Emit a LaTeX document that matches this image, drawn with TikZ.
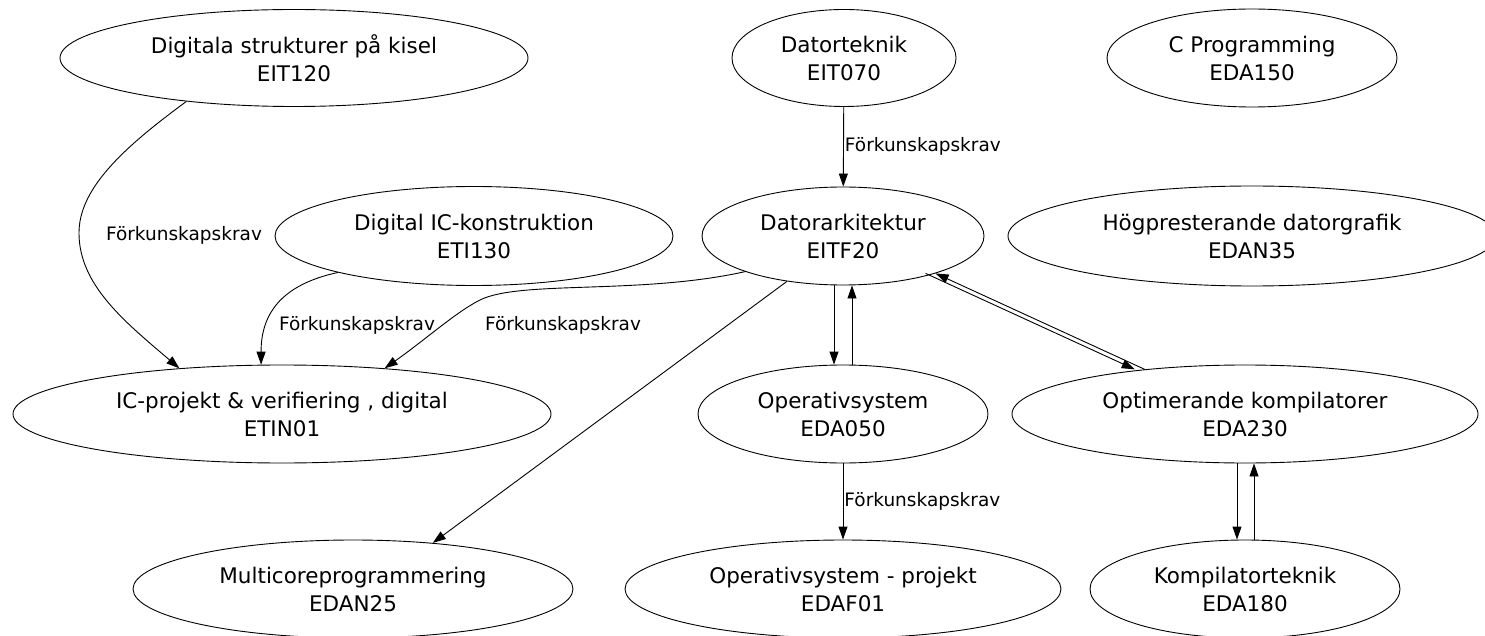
\documentclass[tikz,border=0pt]{standalone}
\usepackage{fontspec}
\setmainfont{DejaVu Sans}
\usetikzlibrary{shapes.geometric,arrows.meta}

\begin{document}
\begin{tikzpicture}[x=1pt,y=-1pt,line width=0.9pt,
  course/.style={ellipse,draw,align=center,inner sep=0pt,
    font=\fontsize{21.5}{28}\selectfont},
  lbl/.style={font=\fontsize{18.5}{22}\selectfont,inner sep=1pt},
  >={Triangle[length=13pt,width=9pt]}]
\useasboundingbox (0,0) rectangle (1485,636);

% courses, top row
\node[course,minimum width=468pt,minimum height=97pt] (eit120) at (294,58) {Digitala strukturer på kisel\\EIT120};
\node[course,minimum width=224pt,minimum height=97pt] (eit070) at (844,58) {Datorteknik\\EIT070};
\node[course,minimum width=290pt,minimum height=98pt] (eda150) at (1252,58) {C Programming\\EDA150};
% second row
\node[course,minimum width=398pt,minimum height=99pt] (eti130) at (474,236) {Digital IC-konstruktion\\ETI130};
\node[course,minimum width=282pt,minimum height=98pt] (eitf20) at (843,236) {Datorarkitektur\\EITF20};
\node[course,minimum width=488pt,minimum height=100pt] (edan35) at (1252,236) {Högpresterande datorgrafik\\EDAN35};
% third row
\node[course,minimum width=538pt,minimum height=98pt] (etin01) at (282,414) {IC-projekt \& verifiering , digital\\ETIN01};
\node[course,minimum width=290pt,minimum height=98pt] (eda050) at (843,414) {Operativsystem\\EDA050};
\node[course,minimum width=466pt,minimum height=98pt] (eda230) at (1245,414) {Optimerande kompilatorer\\EDA230};
% bottom row
\node[course,minimum width=440pt,minimum height=98pt] (edan25) at (353,589) {Multicoreprogrammering\\EDAN25};
\node[course,minimum width=436pt,minimum height=98pt] (edaf01) at (843,589) {Operativsystem - projekt\\EDAF01};
\node[course,minimum width=310pt,minimum height=98pt] (eda180) at (1245,589) {Kompilatorteknik\\EDA180};

% prerequisites
\draw[->] (eit120.202) .. controls (120,150) and (79,190) .. (79,233)
  .. controls (79,285) and (125,322) .. (etin01.156);
\node[lbl] (req1) at (184,235) {Förkunskapskrav};
\draw[->] (eti130.195) .. controls (280,285) and (261,315) .. (etin01.113);
\node[lbl] (req2) at (357,325) {Förkunskapskrav};
\draw[->] (eitf20.200) .. controls (640,295) and (520,280) .. (480,300)
  .. controls (456,312) and (425,340) .. (etin01.24);
\node[lbl] (req3) at (563,325) {Förkunskapskrav};
\draw[->] (eit070) -- node[lbl,anchor=west] {Förkunskapskrav} (eitf20);
\draw[->] (eda050) -- node[lbl,anchor=west] {Förkunskapskrav} (edaf01);

% other links
\draw[->] (eitf20.219) -- (edan25.30);
\draw[->] ([xshift=-9pt]eitf20.south) -- ([xshift=-9pt]eda050.north);
\draw[->] ([xshift=9pt]eda050.north) -- ([xshift=9pt]eitf20.south);
\draw[->] ([xshift=-10pt]eitf20.-22) -- ([xshift=-10pt]eda230.156);
\draw[->] (eda230.156) -- (eitf20.-22);
\draw[->] ([xshift=-8pt]eda230.south) -- ([xshift=-8pt]eda180.north);
\draw[->] ([xshift=9pt]eda180.north) -- ([xshift=9pt]eda230.south);
\end{tikzpicture}
\end{document}
